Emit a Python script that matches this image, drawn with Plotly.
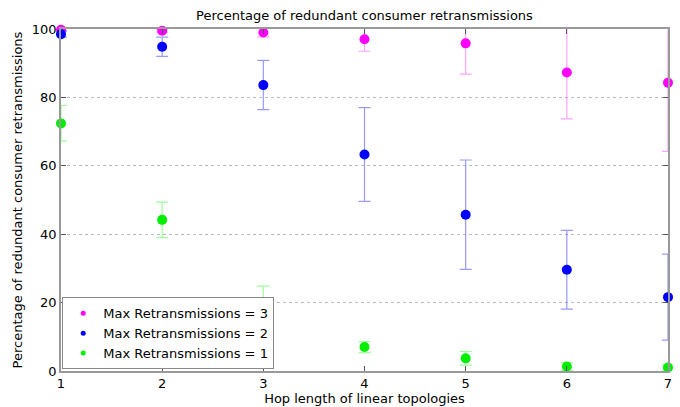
import plotly.graph_objects as go

hops = [1, 2, 3, 4, 5, 6, 7]

# mean percentage of redundant retransmissions and error half-widths
mean_r3 = [99.8, 99.5, 99.0, 97.0, 95.8, 87.3, 84.3]
err_r3 = [0.3, 0.4, 1.3, 3.5, 9.0, 13.6, 20.1]
mean_r2 = [98.5, 94.8, 83.6, 63.3, 45.7, 29.6, 21.6]
err_r2 = [0.9, 2.8, 7.2, 13.7, 16.0, 11.5, 12.6]
mean_r1 = [72.4, 44.2, 19.3, 7.0, 3.7, 1.3, 1.0]
err_r1 = [5.2, 5.2, 5.5, 1.6, 2.0, 1.1, 0.8]

series = [
    ("Max Retransmissions = 3", mean_r3, err_r3, "#ff00ff", "rgba(255,90,255,0.55)"),
    ("Max Retransmissions = 2", mean_r2, err_r2, "#0000ff", "rgba(70,70,255,0.55)"),
    ("Max Retransmissions = 1", mean_r1, err_r1, "#00ee00", "rgba(60,255,60,0.5)"),
]

font = "DejaVu Sans, sans-serif"
fig = go.Figure()

# error bars (clipped to the axes)
for name, y, e, col, ecol in series:
    fig.add_trace(go.Scatter(
        x=hops, y=y, mode="markers", showlegend=False, hoverinfo="skip",
        marker=dict(size=1, color="rgba(0,0,0,0)"),
        error_y=dict(type="data", array=e, color=ecol, thickness=1.2, width=6),
        cliponaxis=True,
    ))

# markers (not clipped at the frame)
for name, y, e, col, ecol in series:
    fig.add_trace(go.Scatter(
        x=hops, y=y, mode="markers", name=name, showlegend=False,
        marker=dict(size=10, color=col), cliponaxis=False,
    ))

# small legend dots
for name, y, e, col, ecol in series:
    fig.add_trace(go.Scatter(
        x=[None], y=[None], mode="markers", name=name,
        marker=dict(size=5, color=col),
    ))

fig.update_layout(
    width=680, height=407,
    margin=dict(l=61, r=12, t=29, b=36),
    paper_bgcolor="white", plot_bgcolor="white",
    font=dict(family=font, size=13, color="black"),
    title=dict(text="Percentage of redundant consumer retransmissions",
               x=0.5, xref="paper", y=0.962, yref="container",
               xanchor="center", yanchor="middle",
               font=dict(family=font, size=13, color="black")),
    xaxis=dict(
        range=[1, 7], tickvals=hops, ticks="inside", ticklen=5,
        tickcolor="#555", showline=True, linecolor="#999", linewidth=1.5,
        mirror="ticks", showgrid=False, zeroline=False, automargin=False,
        title=dict(text="Hop length of linear topologies", standoff=2,
                   font=dict(size=13)),
    ),
    yaxis=dict(
        range=[0, 100], tickvals=[0, 20, 40, 60, 80, 100], ticks="inside",
        ticklen=5, tickcolor="#555", showline=True, linecolor="#999",
        linewidth=1.5, mirror="ticks", showgrid=True, gridcolor="#bbb",
        griddash="dot", gridwidth=1, zeroline=False, automargin=False,
        title=dict(text="Percentage of redundant consumer retransmissions",
                   standoff=6, font=dict(size=13)),
    ),
    legend=dict(
        x=0.002, y=0.005, xanchor="left", yanchor="bottom",
        bgcolor="white", bordercolor="#888", borderwidth=1,
        font=dict(family=font, size=13), tracegroupgap=0,
        itemsizing="trace", itemwidth=30,
    ),
)

fig.write_html("out.html")
